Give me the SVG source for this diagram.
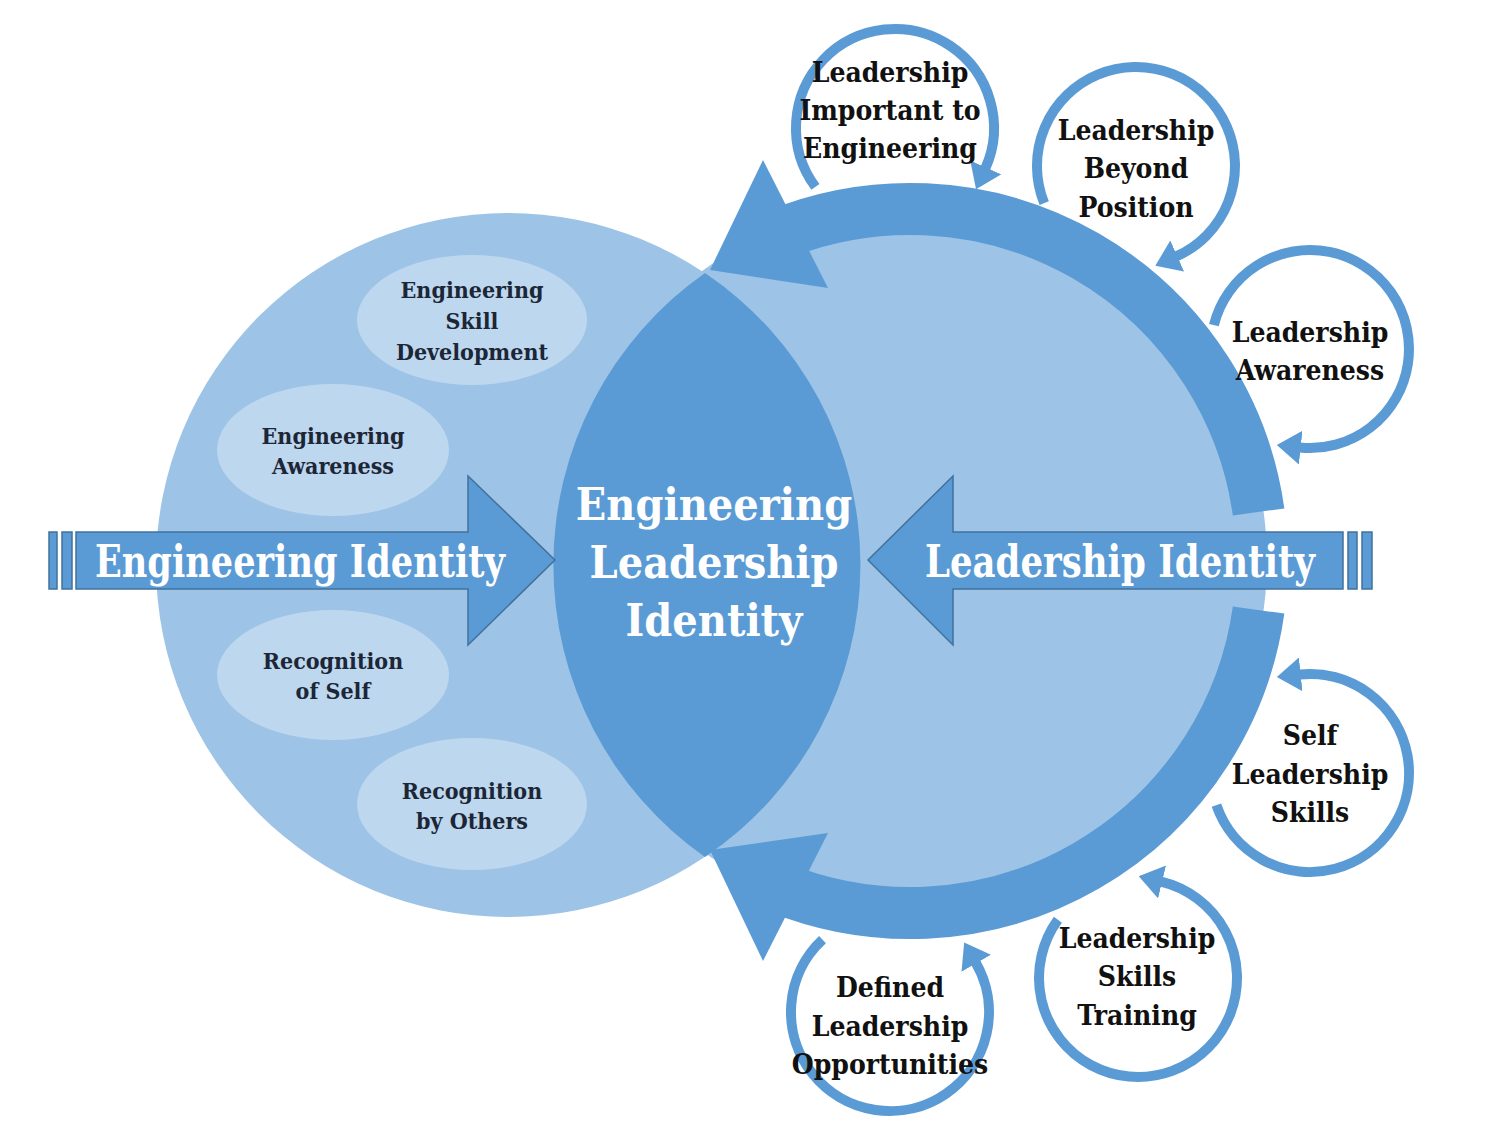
<svg xmlns="http://www.w3.org/2000/svg" width="1495" height="1121" viewBox="0 0 1495 1121">
  <style>
    .bg { fill: #ffffff; }
    .circ { fill: #9dc3e6; }
    .lens { fill: #5b9bd5; }
    .ell { fill: #bdd7ee; }
    .ring { fill: none; stroke: #5b9bd5; stroke-width: 52; }
    .head { fill: #5b9bd5; }
    .loop { fill: none; stroke: #5b9bd5; stroke-width: 10; marker-end: url(#ah); }
    .arrow { fill: #5b9bd5; stroke: #41719c; stroke-width: 1.5; }
    .t { font-family: "DejaVu Serif Condensed", "DejaVu Serif", "Liberation Serif", serif; font-weight: bold; text-anchor: middle; }
    .big { font-size: 44.5px; fill: #ffffff; }
    .arr { font-size: 44px; fill: #ffffff; }
    .ellt { font-size: 23px; fill: #1c2636; }
    .loopt { font-size: 28px; fill: #111111; }
  </style>
  <defs>
    <marker id="ah" markerUnits="userSpaceOnUse" markerWidth="24" markerHeight="34" viewBox="0 0 24 34" refX="1" refY="17" orient="auto">
      <path d="M0,0 L24,17 L0,34 z" fill="#5b9bd5"/>
    </marker>
  </defs>
  <rect class="bg" x="0" y="0" width="1495" height="1121"/>

  <g id="engineering-circle">
    <circle class="circ" cx="508" cy="565" r="352"/>
  </g>
  <g id="leadership-circle">
    <circle class="circ" cx="910" cy="561" r="357"/>
  </g>
  <g id="engineering-leadership-identity">
    <path class="lens" d="M705,273 A352,352 0 0 1 705,857 A357,357 0 0 1 705,273 Z"/>
    <text class="t big" x="714" y="520">Engineering</text>
    <text class="t big" x="714" y="578">Leadership</text>
    <text class="t big" x="714" y="636">Identity</text>
  </g>

  <g id="engineering-skill-development">
    <ellipse class="ell" cx="472" cy="320" rx="115" ry="65"/>
    <text class="t ellt" x="472" y="298">Engineering</text>
    <text class="t ellt" x="472" y="329">Skill</text>
    <text class="t ellt" x="472" y="360">Development</text>
  </g>
  <g id="engineering-awareness">
    <ellipse class="ell" cx="333" cy="450" rx="116" ry="66"/>
    <text class="t ellt" x="333" y="444">Engineering</text>
    <text class="t ellt" x="333" y="474">Awareness</text>
  </g>
  <g id="recognition-of-self">
    <ellipse class="ell" cx="333" cy="675" rx="116" ry="65"/>
    <text class="t ellt" x="333" y="669">Recognition</text>
    <text class="t ellt" x="333" y="699">of Self</text>
  </g>
  <g id="recognition-by-others">
    <ellipse class="ell" cx="472" cy="804" rx="115" ry="66"/>
    <text class="t ellt" x="472" y="799">Recognition</text>
    <text class="t ellt" x="472" y="829">by Others</text>
  </g>

  <g id="engineering-identity">
    <rect class="arrow" x="49" y="532" width="8" height="57"/>
    <rect class="arrow" x="62" y="532" width="10" height="57"/>
    <path class="arrow" d="M76,532 L468,532 L468,476 L555,560 L468,645 L468,589 L76,589 Z"/>
    <text class="t arr" x="300" y="577" textLength="410" lengthAdjust="spacingAndGlyphs">Engineering Identity</text>
  </g>
  <g id="leadership-identity">
    <rect class="arrow" x="1362" y="532" width="10" height="57"/>
    <rect class="arrow" x="1348" y="532" width="9" height="57"/>
    <path class="arrow" d="M1343,532 L953,532 L953,476 L868,560 L953,645 L953,589 L1343,589 Z"/>
    <text class="t arr" x="1120" y="577" textLength="390" lengthAdjust="spacingAndGlyphs">Leadership Identity</text>
  </g>

  <g id="connectors">
    <path class="ring" d="M1258.6,512 A352,352 0 0 0 778.1,234.6"/>
    <polygon class="head" points="763,160 710,270 828,288"/>
    <path class="ring" d="M1258.6,610 A352,352 0 0 1 778.1,887.4"/>
    <polygon class="head" points="763,961 710,850 828,833"/>
    <path class="loop" d="M815.4,186.9 A99,99 0 1 1 985.4,168.3"/>
    <path class="loop" d="M1044.2,203.1 A99,99 0 1 1 1176.3,256.4"/>
    <path class="loop" d="M1213.9,325.1 A99,99 0 1 1 1299.7,447.5"/>
    <path class="loop" d="M1216.4,805.2 A99,99 0 1 0 1299.7,674.5"/>
    <path class="loop" d="M1057.9,919.8 A99,99 0 1 0 1161.1,881.7"/>
    <path class="loop" d="M822.5,939.6 A99,99 0 1 0 975.7,962.5"/>
  </g>

  <g id="leadership-important-to-engineering">
    <text class="t loopt" x="890" y="82">Leadership</text>
    <text class="t loopt" x="890" y="120">Important to</text>
    <text class="t loopt" x="890" y="158">Engineering</text>
  </g>
  <g id="leadership-beyond-position">
    <text class="t loopt" x="1136" y="140">Leadership</text>
    <text class="t loopt" x="1136" y="178">Beyond</text>
    <text class="t loopt" x="1136" y="217">Position</text>
  </g>
  <g id="leadership-awareness">
    <text class="t loopt" x="1310" y="342">Leadership</text>
    <text class="t loopt" x="1310" y="380">Awareness</text>
  </g>
  <g id="self-leadership-skills">
    <text class="t loopt" x="1310" y="745">Self</text>
    <text class="t loopt" x="1310" y="784">Leadership</text>
    <text class="t loopt" x="1310" y="822">Skills</text>
  </g>
  <g id="leadership-skills-training">
    <text class="t loopt" x="1137" y="948">Leadership</text>
    <text class="t loopt" x="1137" y="986">Skills</text>
    <text class="t loopt" x="1137" y="1025">Training</text>
  </g>
  <g id="defined-leadership-opportunities">
    <text class="t loopt" x="890" y="997">Defined</text>
    <text class="t loopt" x="890" y="1036">Leadership</text>
    <text class="t loopt" x="890" y="1074">Opportunities</text>
  </g>
</svg>
